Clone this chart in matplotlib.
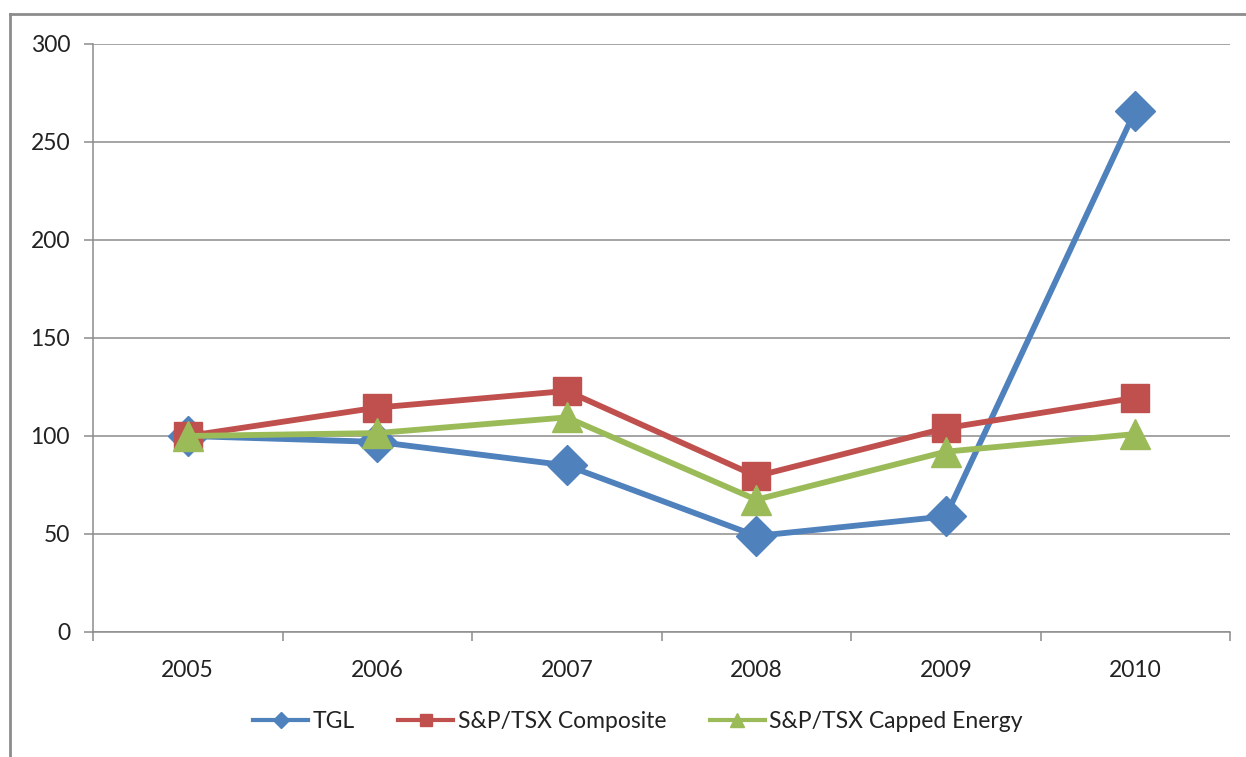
import matplotlib
matplotlib.use("Agg")
import matplotlib.pyplot as plt
from matplotlib.lines import Line2D

years = ["2005", "2006", "2007", "2008", "2009", "2010"]
tgl = [100, 97, 85, 49, 59, 266]
composite = [100, 114.5, 123, 79.5, 104, 119.5]
energy = [100, 101.5, 109.5, 67.5, 92, 101]
series_names = ["TGL", "S&P/TSX Composite", "S&P/TSX Capped Energy"]
yticks = [0, 50, 100, 150, 200, 250, 300]

plt.rcParams['font.family'] = ['Lato', 'DejaVu Sans']

W, H = 1246, 757
fig = plt.figure(figsize=(W / 100, H / 100), dpi=100)
ax = fig.add_axes([93 / W, 1 - 632 / H, (1230 - 93) / W, (632 - 44) / H])

blue, red, green = "#4F81BD", "#C0504D", "#9BBB59"
x = list(range(len(years)))
lw = 4.2
ax.plot(x, tgl, color=blue, lw=lw, marker="D", ms=20, zorder=3)
ax.plot(x, composite, color=red, lw=lw, marker="s", ms=20, zorder=4)
ax.plot(x, energy, color=green, lw=lw, marker="^", ms=21, zorder=5)

ax.set_xlim(-0.5, len(years) - 0.5)
ax.set_ylim(0, 300)
ax.set_yticks(yticks)
ax.set_yticklabels([str(v) for v in yticks])
ax.set_xticks(x)
ax.set_xticklabels(years)
ax.set_xticks([i - 0.5 for i in range(len(years) + 1)], minor=True)

grid_c = "#8C8C8C"
ax.yaxis.grid(True, color=grid_c, lw=1.1)
ax.set_axisbelow(True)
for s in ["top", "right"]:
    ax.spines[s].set_visible(False)
ax.spines["left"].set_color(grid_c)
ax.spines["bottom"].set_color(grid_c)
ax.spines["left"].set_linewidth(1.1)
ax.spines["bottom"].set_linewidth(1.1)

ax.tick_params(axis="y", length=6.5, width=1.1, color=grid_c, pad=10, labelsize=16.5, labelcolor="#222222")
ax.tick_params(axis="x", which="major", length=0, pad=20, labelsize=16.5, labelcolor="#222222")
ax.tick_params(axis="x", which="minor", length=6.5, width=1.1, color=grid_c)

handles = [
    Line2D([], [], color=blue, lw=3, marker="D", ms=8),
    Line2D([], [], color=red, lw=3, marker="s", ms=9),
    Line2D([], [], color=green, lw=3, marker="^", ms=10),
]
fig.legend(handles, series_names, loc="center", bbox_to_anchor=(638 / W, 1 - 722 / H),
           ncol=3, frameon=False, fontsize=16.5, handlelength=2.4, handletextpad=0.2,
           columnspacing=1.9, labelcolor="#222222")

# outer chart border (left and top visible)
bc = "#8C8C8C"
fig.add_artist(Line2D([10 / W, 10 / W], [0, 1 - 14 / H], transform=fig.transFigure, color=bc, lw=2))
fig.add_artist(Line2D([10 / W, 1], [1 - 14 / H, 1 - 14 / H], transform=fig.transFigure, color=bc, lw=2))

fig.savefig("out.png", dpi=100)
